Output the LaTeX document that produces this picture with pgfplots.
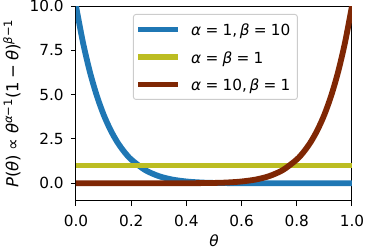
\documentclass[border=0pt]{standalone}
\usepackage{fontspec}
\setmainfont{DejaVu Sans}
\usepackage{pgfplots}
\pgfplotsset{compat=1.18}
\definecolor{cblue}{HTML}{1F77B4}
\definecolor{colive}{HTML}{BCBD22}
\definecolor{cred}{HTML}{7F2704}
\newcommand{\mi}[1]{\textit{#1}}
\newcommand{\tsp}{\hspace{0.278em}}
\newcommand{\msp}{\hspace{0.222em}}
\begin{document}
\fontsize{15.3}{18}\selectfont
\begin{tikzpicture}
\begin{axis}[
  at={(0,0)}, anchor=south west,
  scale only axis, width=276pt, height=195pt,
  xmin=0, xmax=1, ymin=-1, ymax=10,
  xtick={0,0.2,0.4,0.6,0.8,1.0},
  ytick={0,2.5,5,7.5,10},
  xticklabel style={yshift=-4pt, /pgf/number format/.cd,fixed,fixed zerofill,precision=1},
  yticklabel style={xshift=-2pt, /pgf/number format/.cd,fixed,fixed zerofill,precision=1},
  /pgf/number format/assume math mode=true,
  tick align=outside, tick pos=left,
  major tick length=5pt,
  every tick/.style={black, line width=1pt},
  axis line style={line width=1pt},
  font=\fontsize{15.3}{18}\selectfont,
  xlabel={\mi{θ}},
  ylabel={\mi{P}(\mi{θ})\tsp∝\tsp\mi{θ}\textsuperscript{\mi{α}−1}(1\msp−\msp\mi{θ})\textsuperscript{\mi{β}−1}},
  xlabel style={at={(axis description cs:0.5,-0.2026)}, anchor=center, inner sep=0pt},
  ylabel style={at={(axis description cs:-0.2319,0.5)}, anchor=center, inner sep=0pt, font=\fontsize{16.5}{19}\selectfont},
  legend style={at={(0.2065,0.959)}, anchor=north west, draw=black!20, fill=white, rounded corners=2.5pt, line width=0.9pt, inner xsep=2pt, inner ysep=8pt, row sep=13.5pt, column sep=5pt, nodes={inner xsep=5pt, inner ysep=0pt, text height=13.5pt, text depth=0.5pt}, font=\fontsize{15.3}{18}\selectfont},
  legend cell align=left,
  legend image code/.code={\draw[#1, line width=5.8pt] (0pt,0pt) -- (40pt,0pt);},
]
\addplot[cblue, line width=5.8pt, smooth] coordinates {
(0,10) (0.025,7.963) (0.05,6.302) (0.075,4.958) (0.1,3.874) (0.125,3.007) (0.15,2.316) (0.175,1.771) (0.2,1.342) (0.25,0.751) (0.3,0.404) (0.35,0.207) (0.4,0.101) (0.45,0.046) (0.5,0.0195) (0.6,0.0026) (0.7,0.0002) (0.8,0) (0.9,0) (1.0,0)};
\addlegendentry{\mi{α}\tsp=\tsp1,\hspace{0.167em}\mi{β}\tsp=\tsp10}
\addplot[colive, line width=5.8pt] coordinates {(0,1) (1,1)};
\addlegendentry{\mi{α}\tsp=\tsp\mi{β}\tsp=\tsp1}
\addplot[cred, line width=5.8pt, smooth] coordinates {
(0,0) (0.1,0) (0.2,0) (0.3,0.0002) (0.4,0.0026) (0.5,0.0195) (0.55,0.046) (0.6,0.101) (0.65,0.207) (0.7,0.404) (0.75,0.751) (0.8,1.342) (0.825,1.771) (0.85,2.316) (0.875,3.007) (0.9,3.874) (0.925,4.958) (0.95,6.302) (0.975,7.963) (1,10)};
\addlegendentry{\mi{α}\tsp=\tsp10,\hspace{0.167em}\mi{β}\tsp=\tsp1}
\end{axis}
\pgfresetboundingbox
\path[use as bounding box] (-76pt,-51pt) rectangle (289pt,201pt);
\end{tikzpicture}
\end{document}
